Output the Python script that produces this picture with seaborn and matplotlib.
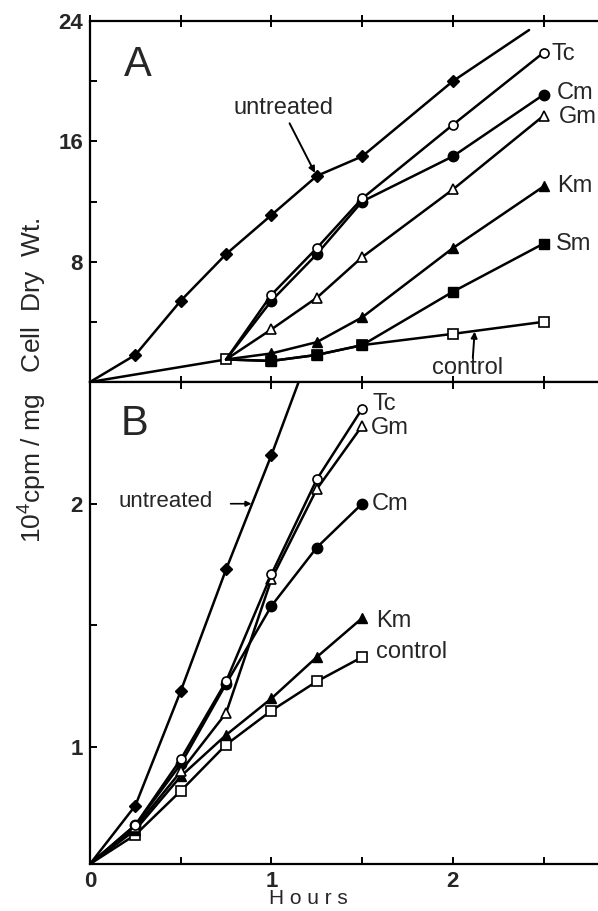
import matplotlib
matplotlib.use("Agg")
import matplotlib.pyplot as plt
import numpy as np
import pandas as pd
import seaborn as sns

sns.set_theme(style="white")
plt.rcParams["font.family"] = ["Liberation Sans", "DejaVu Sans"]
plt.rcParams["mathtext.default"] = "regular"
plt.rcParams["axes.edgecolor"] = "black"
plt.rcParams["axes.linewidth"] = 1.6

# ---------------- Panel A data (10^4 cpm / mg cell dry wt.) ----------------
a_untreated_x = [0, 0.25, 0.5, 0.75, 1.0, 1.25, 1.5, 2.0, 2.42]
a_untreated_y = [0, 1.8, 5.4, 8.5, 11.1, 13.7, 15.0, 20.0, 23.4]
a_control_x = [0, 0.75, 1.0, 1.25, 1.5, 2.0, 2.5]
a_control_y = [0, 1.5, 1.4, 1.8, 2.45, 3.2, 4.0]
a_treated_x = [0.75, 1.0, 1.25, 1.5, 2.0, 2.5]
a_tc = [1.5, 5.8, 8.9, 12.2, 17.1, 21.9]
a_cm = [1.5, 5.4, 8.5, 12.0, 15.0, 19.1]
a_gm = [1.5, 3.5, 5.6, 8.3, 12.8, 17.7]
a_km = [1.5, 1.9, 2.65, 4.3, 8.9, 13.0]
a_sm = [1.5, 1.4, 1.8, 2.45, 6.0, 9.2]

# ---------------- Panel B data ----------------
b_x = [0, 0.25, 0.5, 0.75, 1.0, 1.25, 1.5]
b_untreated_x = [0, 0.25, 0.5, 0.75, 1.0, 1.25]
b_untreated_y = [0.52, 0.76, 1.23, 1.73, 2.20, 2.70]
b_tc = [0.52, 0.68, 0.95, 1.27, 1.71, 2.10, 2.39]
b_gm = [0.52, 0.67, 0.90, 1.14, 1.69, 2.06, 2.32]
b_cm = [0.52, 0.68, 0.93, 1.26, 1.58, 1.82, 2.00]
b_km = [0.52, 0.66, 0.88, 1.05, 1.20, 1.37, 1.53]
b_control = [0.52, 0.64, 0.82, 1.01, 1.15, 1.27, 1.37]

W, H = 598, 911
fig = plt.figure(figsize=(W / 100, H / 100), dpi=100)
axA = fig.add_axes([90 / W, (H - 382) / H, 508 / W, 361 / H])
axB = fig.add_axes([90 / W, (H - 864) / H, 508 / W, 482 / H])

LW = 1.8
open_kw = dict(markerfacecolor="white", markeredgecolor="black", markeredgewidth=1.2)
fill_kw = dict(markerfacecolor="black", markeredgecolor="black", markeredgewidth=1.0)


def draw(ax, xs, ys, marker, ms, filled, markevery):
    df = pd.DataFrame({"hours": xs, "value": ys})
    kw = fill_kw if filled else open_kw
    sns.lineplot(data=df, x="hours", y="value", ax=ax, color="black",
                 linewidth=LW, marker=marker, markersize=ms, markevery=markevery,
                 sort=False, estimator=None, **kw)


# Panel A
draw(axA, a_untreated_x, a_untreated_y, "D", 6.5, True, list(range(1, 8)))
draw(axA, a_control_x, a_control_y, "s", 6.5, False, list(range(1, 7)))
draw(axA, a_treated_x, a_gm, "^", 6.5, False, list(range(1, 6)))
draw(axA, a_treated_x, a_km, "^", 7, True, list(range(1, 6)))
draw(axA, a_treated_x, a_sm, "s", 7, True, list(range(1, 6)))
draw(axA, a_treated_x, a_cm, "o", 7.5, True, list(range(1, 6)))
draw(axA, a_treated_x, a_tc, "o", 6.5, False, list(range(1, 6)))

# Panel B
draw(axB, b_untreated_x, b_untreated_y, "D", 6.5, True, list(range(1, 6)))
draw(axB, b_x, b_control, "s", 7.5, False, list(range(1, 7)))
draw(axB, b_x, b_km, "^", 7.5, True, list(range(1, 7)))
draw(axB, b_x, b_cm, "o", 7.5, True, list(range(1, 7)))
draw(axB, b_x, b_gm, "^", 6.5, False, list(range(1, 7)))
draw(axB, b_x, b_tc, "o", 6.5, False, list(range(1, 7)))

for ax in (axA, axB):
    ax.set_xlim(0, 2.8)
    ax.spines["right"].set_visible(False)
    for s in ("left", "top", "bottom"):
        ax.spines[s].set_linewidth(1.6)
    ax.set_xlabel("")
    ax.set_ylabel("")
    ax.set_xticks([0, 0.5, 1, 1.5, 2, 2.5])
    ax.tick_params(axis="both", which="both", direction="in", length=5, width=1.4,
                   top=True, bottom=True, left=True, right=False, color="black",
                   labelsize=16, pad=5)

axA.set_ylim(0, 24)
axA.set_yticks([4, 8, 12, 16, 20, 24])
axA.set_yticklabels(["", "8", "", "16", "", "24"], fontweight="bold")
axA.set_xticklabels([])
axA.tick_params(axis="x", which="both", direction="inout", length=8)

axB.set_ylim(0.52, 2.5)
axB.set_yticks([1, 1.5, 2])
axB.set_yticklabels(["1", "", "2"], fontweight="bold")
axB.set_xticklabels(["0", "", "1", "", "2", ""], fontweight="bold")

# Panel letters
axA.text(0.094, 0.878, "A", transform=axA.transAxes, fontsize=30,
         ha="center", va="center")
axB.text(0.088, 0.912, "B", transform=axB.transAxes, fontsize=30,
         ha="center", va="center")

lab = dict(fontsize=17, ha="left", va="center")
# Panel A labels
axA.text(2.545, 21.8, "Tc", **lab)
axA.text(2.57, 19.2, "Cm", **lab)
axA.text(2.585, 17.6, "Gm", **lab)
axA.text(2.575, 13.0, "Km", **lab)
axA.text(2.57, 9.2, "Sm", **lab)
axA.text(2.08, 0.9, "control", fontsize=17, ha="center", va="center")
axA.annotate("", xy=(2.12, 3.35), xytext=(2.11, 1.6),
             arrowprops=dict(arrowstyle="-|>", color="black", lw=1.4,
                             mutation_scale=9, shrinkA=0, shrinkB=0))
axA.text(1.066, 18.2, "untreated", fontsize=17, ha="center", va="center")
axA.annotate("", xy=(1.24, 13.9), xytext=(1.10, 17.2),
             arrowprops=dict(arrowstyle="-|>", color="black", lw=1.4,
                             mutation_scale=9, shrinkA=0, shrinkB=0))

# Panel B labels
axB.text(1.555, 2.41, "Tc", **lab)
axB.text(1.55, 2.31, "Gm", **lab)
axB.text(1.555, 2.00, "Cm", **lab)
axB.text(1.575, 1.52, "Km", **lab)
axB.text(1.575, 1.39, "control", fontsize=17, ha="left", va="center")
axB.text(0.155, 2.01, "untreated", fontsize=16, ha="left", va="center")
axB.annotate("", xy=(0.89, 2.0), xytext=(0.775, 2.0),
             arrowprops=dict(arrowstyle="-|>", color="black", lw=1.2,
                             mutation_scale=8, shrinkA=0, shrinkB=0))

fig.text(33 / W, (H - 380) / H, "10$^{4}$cpm / mg   Cell  Dry  Wt.", rotation=90,
         ha="center", va="center", fontsize=19)
fig.text(308 / W, (H - 899) / H, "H o u r s", ha="center", va="center", fontsize=15)

fig.savefig("out.png", dpi=100)
